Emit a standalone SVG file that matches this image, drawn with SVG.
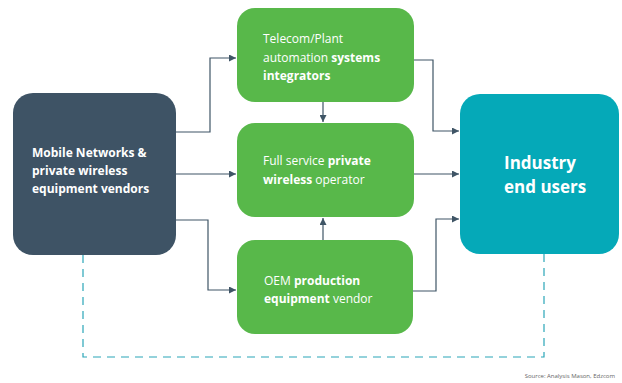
<svg xmlns="http://www.w3.org/2000/svg" width="622" height="383" viewBox="0 0 622 383">
<defs>
<style>
.t{font-family:"Open Sans","Liberation Sans",sans-serif;fill:#fff;font-size:12px}
.b{font-weight:bold}
.ln{fill:none;stroke:#3f5566;stroke-width:1.2}
</style>
<marker id="ah" viewBox="0 0 10 10" refX="10" refY="5" markerWidth="7" markerHeight="7" markerUnits="userSpaceOnUse" orient="auto"><path d="M0,0L10,5L0,10z" fill="#3f5566"/></marker>
</defs>
<rect width="622" height="383" fill="#fff"/>
<g id="connectors">
<path class="ln" d="M176,132H210V58H236" marker-end="url(#ah)"/>
<path class="ln" d="M176,174H236" marker-end="url(#ah)"/>
<path class="ln" d="M176,220H208V290H236" marker-end="url(#ah)"/>
<path class="ln" d="M414,60H433V131H459" marker-end="url(#ah)"/>
<path class="ln" d="M414,174H459" marker-end="url(#ah)"/>
<path class="ln" d="M413,291H436V219H459" marker-end="url(#ah)"/>
<path class="ln" d="M323,102V122" marker-end="url(#ah)"/>
<path class="ln" d="M323,240V218" marker-end="url(#ah)"/>
<path d="M83,255V357H544V254" fill="none" stroke="#2aa6b8" stroke-width="1.2" stroke-dasharray="8,6"/>
</g>
<g id="vendors">
<rect x="13" y="93" width="163" height="162" rx="20" fill="#3e5365"/>
<text class="t b" x="32" y="157">Mobile Networks &amp;</text>
<text class="t b" x="32" y="175">private wireless</text>
<text class="t b" x="32" y="193">equipment vendors</text>
</g>
<g id="integrators">
<rect x="237" y="8" width="177" height="94" rx="18" fill="#58b84a"/>
<text class="t" x="263" y="43">Telecom/Plant</text>
<text class="t" x="263" y="62">automation <tspan class="b">systems</tspan></text>
<text class="t b" x="263" y="80">integrators</text>
</g>
<g id="operator">
<rect x="237" y="123" width="177" height="94" rx="18" fill="#58b84a"/>
<text class="t" x="263" y="165">Full service <tspan class="b">private</tspan></text>
<text class="t" x="263" y="184"><tspan class="b">wireless</tspan> operator</text>
</g>
<g id="oem">
<rect x="237" y="240" width="176" height="94" rx="18" fill="#58b84a"/>
<text class="t" x="264" y="285">OEM <tspan class="b">production</tspan></text>
<text class="t" x="264" y="303"><tspan class="b">equipment</tspan> vendor</text>
</g>
<g id="endusers">
<rect x="460" y="94" width="159" height="160" rx="20" fill="#05a9b8"/>
<text class="t b" x="504" y="169" style="font-size:17px">Industry</text>
<text class="t b" x="504" y="193" style="font-size:17px">end users</text>
</g>
<text x="615" y="378" text-anchor="end" style="font-family:'Open Sans','Liberation Sans',sans-serif;font-size:6px;fill:#666">Source: Analysis Mason, Edzcom</text>
</svg>
